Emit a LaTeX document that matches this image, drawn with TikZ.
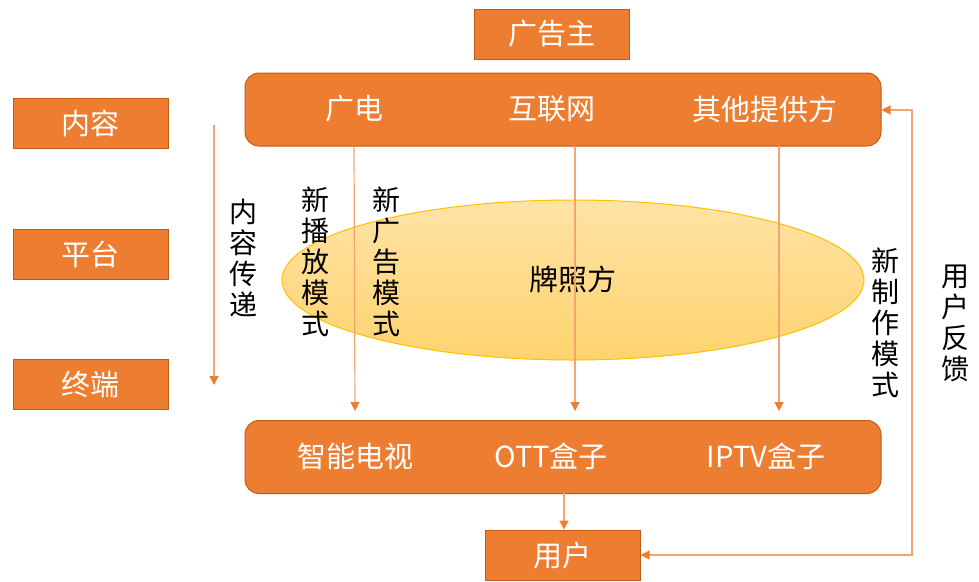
\documentclass[tikz,border=0pt]{standalone}
\usepackage{fontspec}
\setmainfont{Carlito}
\newfontfamily\cjk{Noto Sans CJK SC}
\usetikzlibrary{shapes.geometric,arrows.meta}
\definecolor{boxor}{HTML}{ED7D31}
\definecolor{boxedge}{HTML}{C55A11}
\definecolor{lineor}{HTML}{F4A46E}
\definecolor{elltop}{HTML}{FFE3A6}
\definecolor{ellbot}{HTML}{FFD36E}
\definecolor{elledge}{HTML}{FFC000}
\begin{document}
\begin{tikzpicture}[x=1pt,y=-1pt,
  sqbox/.style={draw=boxedge,fill=boxor,line width=1pt,text=white,minimum width=155pt,minimum height=50pt,inner sep=0pt,font=\fontsize{29}{32}\selectfont\cjk},
  bigbox/.style={draw=boxedge,fill=boxor,line width=1pt,rounded corners=14pt,minimum width=636pt,minimum height=73pt,inner sep=0pt},
  wlabel/.style={text=white,font=\fontsize{29}{32}\selectfont\cjk,inner sep=0pt},
  vlabel/.style={text=black,font=\fontsize{28}{31}\selectfont\cjk,align=center,inner sep=0pt},
  flow/.style={draw=lineor,line width=1.2pt,-{Triangle[length=9pt,width=9pt,color=boxor]}},
  bflow/.style={draw=lineor,line width=1.2pt,{Triangle[length=9pt,width=9pt,color=boxor]}-{Triangle[length=9pt,width=9pt,color=boxor]}}
]
\useasboundingbox (0,0) rectangle (979,581);
% ellipse
\node[ellipse,draw=elledge,line width=1pt,top color=elltop,bottom color=ellbot,minimum width=582pt,minimum height=160pt,inner sep=0pt] (ell) at (573,280) {};
\node[text=black,font=\fontsize{29}{32}\selectfont\cjk,inner sep=0pt] (pzf) at (573,279) {牌照方};
% boxes
\node[sqbox] (ggz) at (551.5,34) {广告主};
\node[sqbox] (nr) at (90.5,123.5) {内容};
\node[sqbox] (pt) at (90.5,254) {平台};
\node[sqbox] (zd) at (90.5,384) {终端};
\node[sqbox] (yh) at (562.5,555) {用户};
\node[bigbox] (top) at (563,109.5) {};
\node[bigbox] (bot) at (563,457) {};
\node[wlabel] (gd) at (354,109) {广电};
\node[wlabel] (hlw) at (552,109) {互联网};
\node[wlabel] (qt) at (765,109) {其他提供方};
\node[wlabel] (tv) at (355,456) {智能电视};
\node[wlabel] (ott) at (551,456) {\fontsize{29}{32}\selectfont OTT\cjk 盒子};
\node[wlabel] (iptv) at (766,456) {\fontsize{29}{32}\selectfont IPTV\cjk 盒子};
% vertical labels
\node[vlabel] (v1) at (243,258) {内\\容\\传\\递};
\node[vlabel] (v2) at (315,262) {新\\播\\放\\模\\式};
\node[vlabel] (v3) at (386,262) {新\\广\\告\\模\\式};
\node[vlabel] (v4) at (885,323) {新\\制\\作\\模\\式};
\node[vlabel] (v5) at (955,323) {用\\户\\反\\馈};
% arrows
\coordinate (a0s) at (214,125);
\coordinate (a0e) at (214,385);
\draw[flow] (a0s) -- (a0e);
\draw[flow] (gd.center |- top.south) -- (355,411);
\draw[flow] (575,146) -- (575,411);
\draw[flow] (779,146) -- (779,411);
\draw[flow] (564,493) -- (yh.north -| 564,0);
\coordinate (fb1) at (912,555);
\coordinate (fb2) at (912,110);
\draw[bflow] (yh.east) -- (fb1) -- (fb2) -- (top.east |- fb2);
\end{tikzpicture}
\end{document}
